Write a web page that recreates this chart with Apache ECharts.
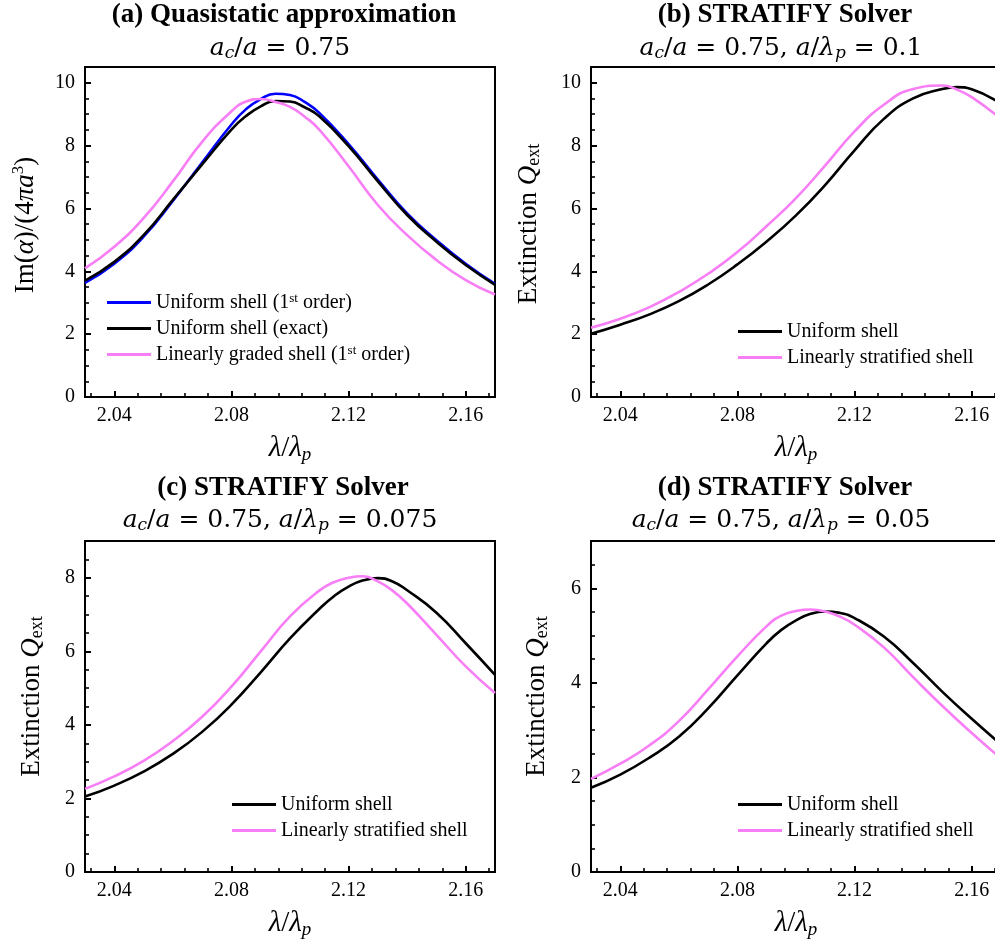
<!DOCTYPE html>
<html>
<head>
<meta charset="utf-8">
<script src="https://cdn.jsdelivr.net/npm/echarts@6/dist/echarts.min.js"></script>
<style>
  html, body { margin: 0; padding: 0; background: #fff; }
  #chart { width: 995px; height: 943px; }
</style>
</head>
<body>
<div id="chart"></div>
<script>
// ---- (a) Quasistatic approximation: Im(alpha)/(4 pi a^3) vs lambda/lambda_p ----
const lamA = [2.03, 2.04, 2.05, 2.06, 2.07, 2.08, 2.085, 2.09, 2.095, 2.10, 2.105, 2.11, 2.12, 2.13, 2.14, 2.15, 2.16, 2.17];
const imUniform1st   = [3.63, 4.24, 5.10, 6.24, 7.46, 8.67, 9.16, 9.48, 9.65, 9.61, 9.39, 9.04, 8.05, 6.92, 5.84, 4.99, 4.24, 3.60];
const imUniformExact = [3.70, 4.30, 5.15, 6.27, 7.40, 8.51, 8.94, 9.25, 9.42, 9.40, 9.22, 8.93, 7.98, 6.86, 5.79, 4.94, 4.20, 3.57];
const imGraded1st    = [4.09, 4.78, 5.69, 6.86, 8.12, 9.09, 9.40, 9.48, 9.39, 9.23, 8.92, 8.51, 7.34, 6.11, 5.15, 4.36, 3.72, 3.26];

// ---- (b) STRATIFY, a/lambda_p = 0.1 ----
const lamB = [2.03, 2.04, 2.05, 2.06, 2.07, 2.08, 2.09, 2.10, 2.11, 2.12, 2.13, 2.14, 2.15, 2.155, 2.16, 2.17];
const qextUniformB = [2.01, 2.30, 2.63, 3.05, 3.58, 4.22, 4.95, 5.78, 6.75, 7.85, 8.85, 9.50, 9.80, 9.86, 9.79, 9.33];
const qextStratB   = [2.20, 2.49, 2.86, 3.34, 3.92, 4.61, 5.44, 6.33, 7.37, 8.45, 9.30, 9.80, 9.91, 9.78, 9.54, 8.85];

// ---- (c) STRATIFY, a/lambda_p = 0.075 ----
const lamC = [2.03, 2.04, 2.05, 2.06, 2.07, 2.08, 2.09, 2.10, 2.11, 2.115, 2.12, 2.125, 2.13, 2.135, 2.14, 2.15, 2.16, 2.17];
const qextUniformC = [2.05, 2.35, 2.73, 3.21, 3.81, 4.55, 5.43, 6.35, 7.15, 7.50, 7.76, 7.93, 7.99, 7.90, 7.66, 7.05, 6.22, 5.36];
const qextStratC   = [2.26, 2.60, 3.02, 3.56, 4.22, 5.04, 6.00, 6.95, 7.65, 7.88, 8.00, 8.04, 7.90, 7.65, 7.30, 6.45, 5.59, 4.87];

// ---- (d) STRATIFY, a/lambda_p = 0.05 ----
const lamD = [2.03, 2.04, 2.05, 2.06, 2.07, 2.08, 2.09, 2.095, 2.10, 2.105, 2.11, 2.115, 2.12, 2.13, 2.14, 2.15, 2.16, 2.17];
const qextUniformD = [1.78, 2.06, 2.42, 2.86, 3.46, 4.16, 4.84, 5.12, 5.32, 5.46, 5.51, 5.48, 5.37, 4.98, 4.42, 3.81, 3.24, 2.70];
const qextStratD   = [1.97, 2.29, 2.68, 3.19, 3.86, 4.56, 5.20, 5.42, 5.52, 5.55, 5.51, 5.40, 5.23, 4.75, 4.12, 3.51, 2.94, 2.40];

// ---- axis ticks ----
const xTicks = [2.04, 2.08, 2.12, 2.16];
const xMinorTicks = [2.032, 2.048, 2.056, 2.064, 2.072, 2.088, 2.096, 2.104, 2.112, 2.128, 2.136, 2.144, 2.152, 2.168];
const yTicksAB = [0, 2, 4, 6, 8, 10];
const yTicksC = [0, 2, 4, 6, 8];
const yTicksD = [0, 2, 4, 6];

const SERIF = '"Liberation Serif", "Times New Roman", serif';
const MATH = '"DejaVu Serif", serif';
const BLUE = '#0000ff';
const BLACK = '#000000';
const PINK = '#f87ef6';

function zip(xs, ys) { return xs.map((x, i) => [x, ys[i]]); }

// minor ticks every half unit, skipping the labelled majors
function yMinorTicks(max) {
  const out = [];
  for (let k = 1; k * 0.5 < max - 1e-9; k++) {
    const v = k * 0.5;
    if (v % 2 !== 0) out.push(v);
  }
  return out;
}

const NAME_SIZE = 27;
const axisNameRich = {
  i:    { fontFamily: SERIF, fontStyle: 'italic', fontSize: NAME_SIZE, lineHeight: 31, color: '#000' },
  xi:   { fontFamily: SERIF, fontStyle: 'italic', fontSize: 29, lineHeight: 31, color: '#000' },
  xs:   { fontFamily: SERIF, fontSize: 29, lineHeight: 31, color: '#000' },
  sup:  { fontFamily: SERIF, fontSize: 17, lineHeight: 17, padding: [0, 0, 14, 0], color: '#000' },
  sub:  { fontFamily: SERIF, fontSize: 18, lineHeight: 18, padding: [12, 0, 0, 0], color: '#000' },
  subi: { fontFamily: SERIF, fontStyle: 'italic', fontSize: 19, lineHeight: 19, padding: [12, 0, 0, 0], color: '#000' }
};

const subRich = {
  i: { fontFamily: MATH, fontStyle: 'italic', fontSize: 25, lineHeight: 30 },
  s: { fontFamily: MATH, fontStyle: 'italic', fontSize: 17, lineHeight: 17, padding: [11, 0, 0, 0] }
};

const panels = [
  {
    grid: { left: 85, top: 67, width: 410, height: 330 },
    yMax: 10.5, yTicks: yTicksAB,
    yName: 'Im({i|α})/(4{i|πa}{sup|3})', yNameGap: 44, yNameShift: 14,
    title: '(a) Quasistatic approximation', titleX: 284, titleY: 15,
    sub: '{i|a}{s|c}/{i|a} = 0.75', subX: 280, subY: 48,
    legendPos: { left: 107, top: 292 },
    series: [
      { name: 'Uniform shell (1st order)', x: lamA, y: imUniform1st, color: BLUE },
      { name: 'Uniform shell (exact)', x: lamA, y: imUniformExact, color: BLACK },
      { name: 'Linearly graded shell (1st order)', x: lamA, y: imGraded1st, color: PINK }
    ]
  },
  {
    grid: { left: 591, top: 67, width: 410, height: 330 },
    yMax: 10.5, yTicks: yTicksAB,
    yName: 'Extinction {i|Q}{sub|ext}', yNameGap: 47, yNameShift: 16,
    title: '(b) STRATIFY Solver', titleX: 785, titleY: 15,
    sub: '{i|a}{s|c}/{i|a} = 0.75, {i|a}/{i|λ}{s|p} = 0.1', subX: 781, subY: 48,
    legendPos: { left: 738, top: 321 },
    series: [
      { name: 'Uniform shell', x: lamB, y: qextUniformB, color: BLACK },
      { name: 'Linearly stratified shell', x: lamB, y: qextStratB, color: PINK }
    ]
  },
  {
    grid: { left: 85, top: 541, width: 410, height: 331 },
    yMax: 9, yTicks: yTicksC,
    yName: 'Extinction {i|Q}{sub|ext}', yNameGap: 38, yNameShift: 20,
    title: '(c) STRATIFY Solver', titleX: 283, titleY: 488,
    sub: '{i|a}{s|c}/{i|a} = 0.75, {i|a}/{i|λ}{s|p} = 0.075', subX: 280, subY: 520,
    legendPos: { left: 232, top: 794 },
    series: [
      { name: 'Uniform shell', x: lamC, y: qextUniformC, color: BLACK },
      { name: 'Linearly stratified shell', x: lamC, y: qextStratC, color: PINK }
    ]
  },
  {
    grid: { left: 591, top: 541, width: 410, height: 331 },
    yMax: 7, yTicks: yTicksD,
    yName: 'Extinction {i|Q}{sub|ext}', yNameGap: 39, yNameShift: 20,
    title: '(d) STRATIFY Solver', titleX: 785, titleY: 488,
    sub: '{i|a}{s|c}/{i|a} = 0.75, {i|a}/{i|λ}{s|p} = 0.05', subX: 781, subY: 520,
    legendPos: { left: 738, top: 794 },
    series: [
      { name: 'Uniform shell', x: lamD, y: qextUniformD, color: BLACK },
      { name: 'Linearly stratified shell', x: lamD, y: qextStratD, color: PINK }
    ]
  }
];

const option = {
  animation: false,
  backgroundColor: '#fff',
  textStyle: { fontFamily: SERIF, color: '#000' },
  grid: [], xAxis: [], yAxis: [], series: [], legend: [], graphic: []
};

panels.forEach((p, gi) => {
  option.grid.push(Object.assign({
    show: true, borderColor: '#000', borderWidth: 2, backgroundColor: 'transparent',
    containLabel: false, outerBoundsMode: 'none'
  }, p.grid));

  const tickLabel = { fontFamily: SERIF, fontSize: 20, color: '#000' };

  // main x axis: labels and major ticks
  option.xAxis.push({
    type: 'value', gridIndex: gi, position: 'bottom', min: 2.03, max: 2.17,
    axisLine: { show: false }, splitLine: { show: false },
    axisTick: { show: true, inside: true, length: 6, customValues: xTicks, lineStyle: { color: '#000', width: 2 } },
    axisLabel: Object.assign({ customValues: xTicks, margin: 9, formatter: v => v.toFixed(2) }, tickLabel),
    name: '{xi|λ}{xs|/}{xi|λ}{subi|p}', nameLocation: 'middle', nameGap: 36,
    nameTextStyle: { fontFamily: SERIF, fontSize: 29, lineHeight: 31, color: '#000', rich: axisNameRich }
  });
  // companion x axis: minor ticks only
  option.xAxis.push({
    type: 'value', gridIndex: gi, position: 'bottom', min: 2.03, max: 2.17,
    axisLine: { show: false }, splitLine: { show: false }, axisLabel: { show: false },
    axisTick: { show: true, inside: true, length: 4, customValues: xMinorTicks, lineStyle: { color: '#000', width: 1.6 } }
  });

  option.yAxis.push({
    type: 'value', gridIndex: gi, position: 'left', min: 0, max: p.yMax,
    axisLine: { show: false }, splitLine: { show: false },
    axisTick: { show: true, inside: true, length: 6, customValues: p.yTicks, lineStyle: { color: '#000', width: 2 } },
    axisLabel: Object.assign({ customValues: p.yTicks, margin: 10 }, tickLabel),
    name: p.yName, nameLocation: 'middle', nameGap: p.yNameGap,
    nameTextStyle: {
      fontFamily: SERIF, fontSize: NAME_SIZE, lineHeight: 31, color: '#000',
      padding: [0, 0, 0, p.yNameShift], rich: axisNameRich
    }
  });
  option.yAxis.push({
    type: 'value', gridIndex: gi, position: 'left', min: 0, max: p.yMax,
    axisLine: { show: false }, splitLine: { show: false }, axisLabel: { show: false },
    axisTick: { show: true, inside: true, length: 4, customValues: yMinorTicks(p.yMax), lineStyle: { color: '#000', width: 1.6 } }
  });

  p.series.forEach(s => {
    option.series.push({
      type: 'line', name: s.name,
      xAxisIndex: gi * 2, yAxisIndex: gi * 2,
      data: zip(s.x, s.y),
      smooth: 0.5, symbol: 'none', showSymbol: false,
      lineStyle: { color: s.color, width: 2.6 },
      itemStyle: { color: s.color },
      emphasis: { disabled: true }
    });
  });

  option.legend.push({
    left: p.legendPos.left, top: p.legendPos.top, orient: 'vertical',
    padding: 0, itemGap: 5, itemWidth: 44, itemHeight: 3, icon: 'rect',
    selectedMode: false,
    data: p.series.map(s => s.name),
    formatter: name => name.replace('(1st', '(1{sup|st}'),
    textStyle: {
      fontFamily: SERIF, fontSize: 20, lineHeight: 21, color: '#000',
      rich: { sup: { fontFamily: SERIF, fontSize: 13, lineHeight: 13, padding: [0, 0, 8, 0], color: '#000' } }
    }
  });

  option.graphic.push({
    type: 'text', x: p.titleX, y: p.titleY,
    style: { text: p.title, fontFamily: SERIF, fontWeight: 'bold', fontSize: 27, fill: '#000', align: 'center', verticalAlign: 'middle' }
  });
  option.graphic.push({
    type: 'text', x: p.subX, y: p.subY,
    style: {
      text: p.sub, fontFamily: MATH, fontSize: 25, lineHeight: 30, fill: '#000',
      align: 'center', verticalAlign: 'middle', rich: subRich
    }
  });
});

const chart = echarts.init(document.getElementById('chart'), null, { renderer: 'canvas' });
chart.setOption(option);
</script>
</body>
</html>
